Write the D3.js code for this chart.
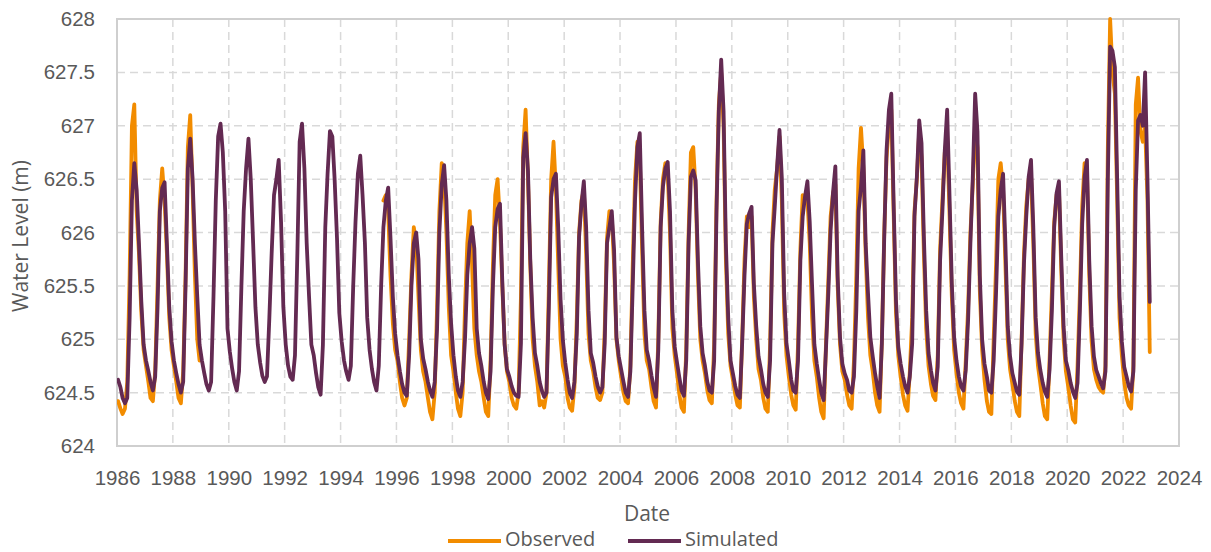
<!DOCTYPE html>
<html>
<head>
<meta charset="utf-8">
<script src="https://cdn.jsdelivr.net/npm/d3@7"></script>
<style>
  html, body { margin: 0; padding: 0; background: #ffffff; }
  svg { display: block; font-family: "Open Sans", "Noto Sans", sans-serif; }
</style>
</head>
<body>
<svg id="chart" width="1211" height="552"></svg>
<script>
// Monthly water levels (m), one row per year, Jan..Dec, starting in 1986.
const firstYear = 1986;

const simulated = [
  [624.62,624.55,624.45,624.40,624.45,625.20,626.30,626.65,626.40,625.90,625.35,624.95], // 1986
  [624.80,624.70,624.60,624.52,624.65,625.30,626.20,626.42,626.47,625.90,625.30,624.98], // 1987
  [624.80,624.68,624.58,624.50,624.60,625.50,626.60,626.88,626.50,625.90,625.40,624.95], // 1988
  [624.80,624.68,624.58,624.52,624.60,625.40,626.30,626.90,627.02,626.75,626.20,625.10], // 1989
  [624.88,624.72,624.60,624.52,624.70,625.50,626.20,626.60,626.88,626.50,625.90,625.30], // 1990
  [624.95,624.78,624.66,624.60,624.65,625.20,625.80,626.35,626.50,626.68,626.10,625.30], // 1991
  [624.95,624.75,624.65,624.62,624.85,625.80,626.85,627.02,626.60,625.90,625.40,624.95], // 1992
  [624.85,624.68,624.55,624.48,624.95,626.05,626.55,626.95,626.90,626.50,625.95,625.25], // 1993
  [624.98,624.80,624.70,624.62,624.75,625.50,626.10,626.55,626.72,626.35,625.90,625.20], // 1994
  [624.90,624.72,624.60,624.52,624.75,625.50,626.05,626.30,626.42,625.95,625.40,625.05], // 1995
  [624.85,624.70,624.58,624.50,624.47,624.85,625.50,625.90,626.00,625.75,625.00,624.82], // 1996
  [624.72,624.60,624.52,624.46,624.60,625.10,626.00,626.45,626.63,626.30,625.60,625.15], // 1997
  [624.85,624.65,624.52,624.46,624.60,625.00,625.60,625.90,626.05,625.85,625.10,624.87], // 1998
  [624.75,624.60,624.50,624.44,624.70,625.50,626.05,626.22,626.27,625.55,624.95,624.72], // 1999
  [624.65,624.56,624.50,624.47,624.46,624.96,626.70,626.93,626.58,625.75,625.20,624.87], // 2000
  [624.75,624.60,624.52,624.46,624.50,625.30,626.33,626.50,626.55,626.05,625.37,624.99], // 2001
  [624.78,624.62,624.50,624.45,624.60,625.05,625.96,626.27,626.48,626.05,625.27,624.87], // 2002
  [624.78,624.65,624.56,624.50,624.55,624.96,625.90,626.05,626.20,625.84,625.02,624.84], // 2003
  [624.72,624.60,624.50,624.46,624.70,625.50,626.30,626.80,626.93,626.05,625.27,624.90], // 2004
  [624.80,624.66,624.55,624.46,624.90,626.05,626.43,626.60,626.66,626.20,625.27,624.93], // 2005
  [624.78,624.64,624.52,624.47,624.80,625.90,626.52,626.58,626.49,625.74,625.12,624.87], // 2006
  [624.75,624.60,624.52,624.50,624.80,626.20,627.14,627.62,627.14,625.90,625.20,624.80], // 2007
  [624.68,624.56,624.48,624.45,624.96,625.60,626.08,626.18,626.24,625.52,625.12,624.84], // 2008
  [624.72,624.58,624.50,624.46,624.80,625.90,626.24,626.62,626.96,626.52,625.43,624.96], // 2009
  [624.80,624.62,624.52,624.50,624.80,625.74,626.15,626.34,626.48,626.10,625.50,624.95], // 2010
  [624.77,624.62,624.50,624.43,624.90,625.43,626.02,626.37,626.62,625.59,625.02,624.77], // 2011
  [624.68,624.62,624.52,624.50,624.65,625.27,626.20,626.43,626.77,625.90,625.43,625.02], // 2012
  [624.84,624.68,624.56,624.45,624.96,625.96,626.77,627.15,627.30,626.30,625.37,624.93], // 2013
  [624.77,624.65,624.56,624.50,624.65,624.96,626.15,626.52,627.05,626.84,625.96,625.27], // 2014
  [624.87,624.71,624.59,624.52,624.74,625.74,626.20,626.77,627.15,626.37,625.52,625.02], // 2015
  [624.80,624.65,624.56,624.52,624.71,625.18,625.90,626.52,627.30,626.95,625.60,625.00], // 2016
  [624.77,624.65,624.52,624.50,624.80,625.43,626.15,626.40,626.55,625.90,625.12,624.84], // 2017
  [624.68,624.59,624.51,624.48,624.96,625.71,626.15,626.52,626.68,626.05,625.20,624.87], // 2018
  [624.71,624.59,624.51,624.46,624.71,625.27,626.05,626.37,626.48,625.77,625.12,624.80], // 2019
  [624.71,624.59,624.51,624.45,624.59,625.27,626.08,626.52,626.68,625.74,625.12,624.84], // 2020
  [624.71,624.65,624.59,624.54,624.70,626.50,627.74,627.70,627.55,626.50,625.40,624.98], // 2021
  [624.74,624.65,624.56,624.51,624.70,626.40,627.05,627.10,627.00,627.50,626.50,625.35]  // 2022
];

// Observed record has a gap from 1989 to mid-1995.
const observed = [
  [624.42,624.35,624.30,624.35,624.60,625.60,627.00,627.20,626.20,625.80,625.25,624.90], // 1986
  [624.75,624.60,624.45,624.42,624.70,625.50,626.30,626.60,626.30,625.80,625.20,624.90], // 1987
  [624.75,624.60,624.45,624.40,624.70,625.60,626.80,627.10,626.40,625.60,625.00,624.80], // 1988
  [null,null,null,null,null,null,null,null,null,null,null,null],                         // 1989
  [null,null,null,null,null,null,null,null,null,null,null,null],                         // 1990
  [null,null,null,null,null,null,null,null,null,null,null,null],                         // 1991
  [null,null,null,null,null,null,null,null,null,null,null,null],                         // 1992
  [null,null,null,null,null,null,null,null,null,null,null,null],                         // 1993
  [null,null,null,null,null,null,null,null,null,null,null,null],                         // 1994
  [null,null,null,null,null,null,626.30,626.35,626.20,625.60,625.15,624.90],             // 1995
  [624.80,624.60,624.45,624.38,624.45,625.00,625.60,626.05,625.90,625.40,624.90,624.70], // 1996
  [624.60,624.45,624.32,624.25,624.50,625.30,626.20,626.65,626.50,626.00,625.30,624.85], // 1997
  [624.70,624.50,624.35,624.28,624.50,625.30,625.90,626.20,625.70,625.10,624.85,624.70], // 1998
  [624.60,624.45,624.32,624.28,624.80,625.70,626.35,626.50,626.10,625.50,624.95,624.70], // 1999
  [624.60,624.45,624.38,624.35,624.50,625.40,626.80,627.15,626.50,625.70,625.00,624.75], // 2000
  [624.60,624.38,624.42,624.36,624.50,625.50,626.50,626.85,626.40,625.70,625.00,624.75], // 2001
  [624.65,624.45,624.36,624.33,624.55,625.20,626.00,626.30,626.40,625.80,625.05,624.80], // 2002
  [624.70,624.55,624.45,624.43,624.50,625.10,625.95,626.20,626.15,625.70,625.00,624.80], // 2003
  [624.65,624.50,624.42,624.40,624.75,625.70,626.50,626.85,626.70,625.85,625.05,624.80], // 2004
  [624.72,624.55,624.42,624.36,625.00,626.10,626.50,626.65,626.55,626.00,625.10,624.85], // 2005
  [624.68,624.48,624.36,624.32,624.90,626.00,626.75,626.80,626.40,625.60,625.00,624.80], // 2006
  [624.68,624.52,624.43,624.40,624.95,626.30,627.20,627.50,627.00,625.75,625.05,624.75], // 2007
  [624.62,624.48,624.38,624.36,625.00,625.75,626.15,626.05,626.15,625.40,625.00,624.72], // 2008
  [624.62,624.45,624.35,624.32,624.95,626.00,626.40,626.60,626.90,626.30,625.25,624.85], // 2009
  [624.65,624.48,624.38,624.34,624.95,625.85,626.35,626.30,626.30,625.90,625.20,624.80], // 2010
  [624.65,624.45,624.32,624.26,624.95,625.55,626.15,626.37,626.45,625.50,624.95,624.70], // 2011
  [624.62,624.48,624.38,624.35,624.80,625.60,626.60,626.98,626.60,625.80,625.20,624.85], // 2012
  [624.70,624.50,624.38,624.32,625.00,626.00,626.70,627.00,627.15,626.20,625.25,624.85], // 2013
  [624.65,624.48,624.38,624.33,624.70,625.20,626.20,626.50,626.95,626.70,625.80,625.10], // 2014
  [624.75,624.58,624.47,624.43,624.85,625.85,626.30,626.75,626.90,626.20,625.40,624.90], // 2015
  [624.68,624.50,624.40,624.35,624.80,625.30,626.00,626.45,627.00,626.80,625.45,624.90], // 2016
  [624.62,624.42,624.32,624.30,625.00,625.70,626.50,626.65,626.40,625.70,625.00,624.72], // 2017
  [624.58,624.42,624.32,624.28,625.00,625.80,626.25,626.50,626.55,625.90,625.05,624.75], // 2018
  [624.58,624.40,624.28,624.25,624.80,625.45,626.10,626.35,626.40,625.65,625.00,624.70], // 2019
  [624.55,624.38,624.25,624.22,624.75,625.45,626.25,626.65,626.60,625.60,624.98,624.72], // 2020
  [624.62,624.55,624.52,624.50,624.75,626.80,628.00,627.50,627.30,626.30,625.20,624.85], // 2021
  [624.60,624.45,624.38,624.35,624.75,627.20,627.45,626.95,626.85,627.00,626.30,624.88]  // 2022
];

const xTickYears = [1986,1988,1990,1992,1994,1996,1998,2000,2002,2004,2006,2008,2010,2012,2014,2016,2018,2020,2022,2024];
const yTicks = [624,624.5,625,625.5,626,626.5,627,627.5,628];

const seriesNames = ["Observed", "Simulated"];
const seriesColors = ["#F28C00", "#632A52"];

// Plot frame
const plot = { left: 117, top: 19, right: 1179, bottom: 446 };
const textColor = "#595959";
const gridColor = "#D9D9D9";
const frameColor = "#CFCFCF";
const lineWidth = 3.8;

const toPoints = rows => rows.flatMap((row, i) =>
  row.map((v, m) => ({ date: new Date(firstYear + i, m, 15), value: v })));

const obsPoints = toPoints(observed);
const simPoints = toPoints(simulated);

const x = d3.scaleTime()
  .domain([new Date(1986, 0, 1), new Date(2024, 0, 1)])
  .range([plot.left, plot.right]);
const y = d3.scaleLinear()
  .domain([624, 628])
  .range([plot.bottom, plot.top]);

const svg = d3.select("#chart");

// Gridlines
const grid = svg.append("g");
grid.selectAll("line.h")
  .data(yTicks.slice(1, -1))
  .join("line")
  .attr("x1", plot.left).attr("x2", plot.right)
  .attr("y1", d => y(d)).attr("y2", d => y(d))
  .attr("stroke", gridColor).attr("stroke-width", 1.5)
  .attr("stroke-dasharray", "8,5");
grid.selectAll("line.v")
  .data(xTickYears.slice(1, -1))
  .join("line")
  .attr("x1", d => x(new Date(d, 0, 1))).attr("x2", d => x(new Date(d, 0, 1)))
  .attr("y1", plot.top).attr("y2", plot.bottom)
  .attr("stroke", gridColor).attr("stroke-width", 1.5)
  .attr("stroke-dasharray", "8,5");

// Frame around the plot area
svg.append("rect")
  .attr("x", plot.left).attr("y", plot.top)
  .attr("width", plot.right - plot.left).attr("height", plot.bottom - plot.top)
  .attr("fill", "none").attr("stroke", frameColor).attr("stroke-width", 2);

// Axes
const xAxis = d3.axisBottom(x)
  .tickValues(xTickYears.map(yr => new Date(yr, 0, 1)))
  .tickFormat(d3.timeFormat("%Y"))
  .tickSize(0).tickPadding(24);
const gx = svg.append("g").attr("transform", `translate(0,${plot.bottom})`).call(xAxis);
gx.select(".domain").remove();
gx.selectAll("text").attr("fill", textColor).style("font-size", "20.5px");

const yAxis = d3.axisLeft(y)
  .tickValues(yTicks)
  .tickFormat(d => String(d))
  .tickSize(0).tickPadding(22);
const gy = svg.append("g").attr("transform", `translate(${plot.left},0)`).call(yAxis);
gy.select(".domain").remove();
gy.selectAll("text").attr("fill", textColor).style("font-size", "20.5px");

// Series lines
const line = d3.line()
  .defined(d => d.value !== null)
  .x(d => x(d.date))
  .y(d => y(d.value));

svg.append("clipPath").attr("id", "plot-clip")
  .append("rect")
  .attr("x", plot.left).attr("y", plot.top - 2)
  .attr("width", plot.right - plot.left).attr("height", plot.bottom - plot.top + 2);

const lines = svg.append("g").attr("clip-path", "url(#plot-clip)");
[obsPoints, simPoints].forEach((pts, i) => {
  lines.append("path")
    .datum(pts)
    .attr("d", line)
    .attr("fill", "none")
    .attr("stroke", seriesColors[i])
    .attr("stroke-width", lineWidth)
    .attr("stroke-linejoin", "round")
    .attr("stroke-linecap", "round");
});

// Axis titles
svg.append("text")
  .attr("x", 647).attr("y", 515)
  .attr("text-anchor", "middle").attr("dominant-baseline", "middle")
  .attr("fill", textColor).style("font-size", "21px")
  .text("Date");
svg.append("text")
  .attr("transform", "translate(22,236) rotate(-90)")
  .attr("text-anchor", "middle").attr("dominant-baseline", "middle")
  .attr("fill", textColor).style("font-size", "21px")
  .text("Water Level (m)");

// Legend
const legendItems = [
  { name: seriesNames[0], color: seriesColors[0], x: 448 },
  { name: seriesNames[1], color: seriesColors[1], x: 628 }
];
const legend = svg.append("g");
legend.selectAll("line")
  .data(legendItems)
  .join("line")
  .attr("x1", d => d.x).attr("x2", d => d.x + 53)
  .attr("y1", 541).attr("y2", 541)
  .attr("stroke", d => d.color).attr("stroke-width", lineWidth);
legend.selectAll("text")
  .data(legendItems)
  .join("text")
  .attr("x", d => d.x + 57).attr("y", 541)
  .attr("dominant-baseline", "middle")
  .attr("fill", textColor).style("font-size", "20px")
  .text(d => d.name);
</script>
</body>
</html>
